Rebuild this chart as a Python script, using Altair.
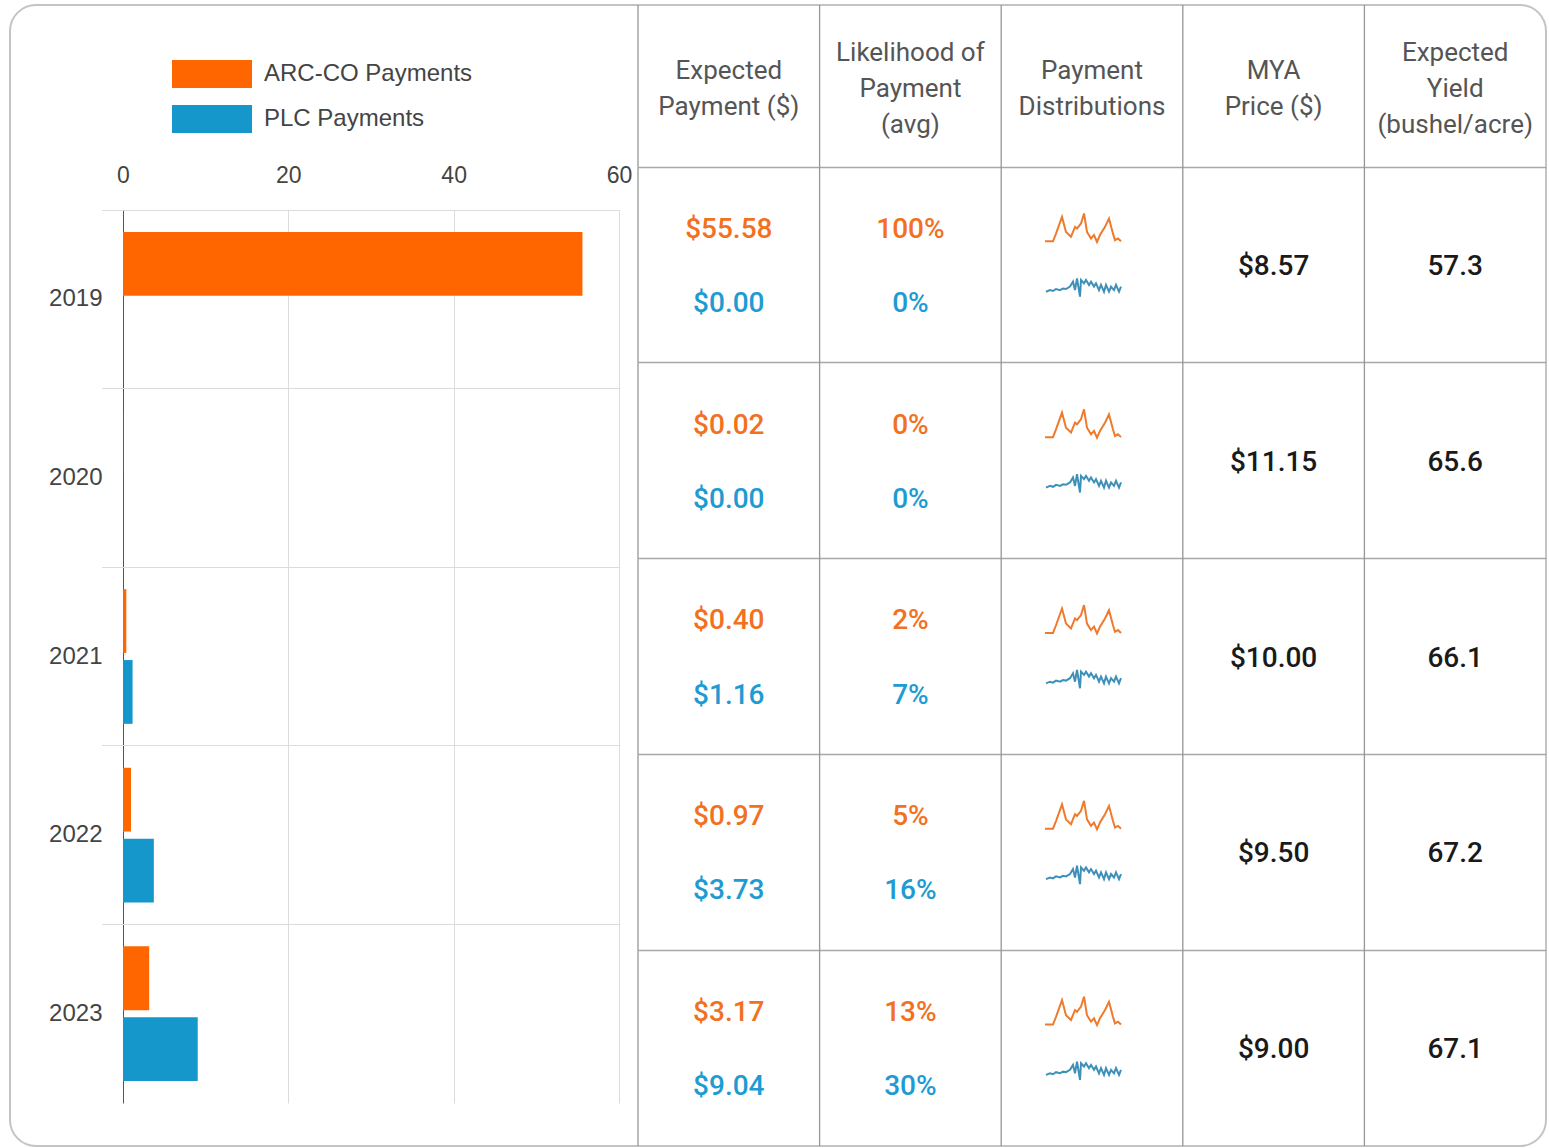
import altair as alt
import pandas as pd

# ---------------- data ----------------
years = ["2019", "2020", "2021", "2022", "2023"]
series = ["ARC-CO Payments", "PLC Payments"]
arc_payment = [55.58, 0.02, 0.40, 0.97, 3.17]
plc_payment = [0.00, 0.00, 1.16, 3.73, 9.04]
arc_likelihood = [100, 0, 2, 5, 13]
plc_likelihood = [0, 0, 7, 16, 30]
mya_price = [8.57, 11.15, 10.00, 9.50, 9.00]
expected_yield = [57.3, 65.6, 66.1, 67.2, 67.1]
headers = [
    "Expected|Payment ($)",
    "Likelihood of|Payment|(avg)",
    "Payment|Distributions",
    "MYA|Price ($)",
    "Expected|Yield|(bushel/acre)",
]
axis_ticks = [0, 20, 40, 60]

# sparkline shapes (same in every row)
spark_arc_t = [0, 8, 11, 17, 21, 26, 30, 32, 36, 39, 42, 46, 49, 52, 55, 60, 64, 68, 70, 73, 76]
spark_arc_v = [0.02, 0.02, 0.29, 0.88, 0.35, 0.18, 0.53, 0.47, 0.65, 1.0, 0.35,
               0.12, 0.24, 0.0, 0.24, 0.53, 0.82, 0.29, 0.06, 0.12, 0.02]
spark_plc_t = [1, 5, 8, 11, 15, 18, 21, 25, 28, 30, 32, 35, 36, 39, 41, 44, 46, 49,
               51, 54, 56, 59, 61, 64, 66, 69, 71, 74, 76]
spark_plc_v = [0.27, 0.36, 0.31, 0.42, 0.36, 0.45, 0.42, 0.55, 0.82, 0.36, 1.0, 0.0,
               0.91, 0.73, 0.91, 0.64, 0.82, 0.55, 0.73, 0.36, 0.64, 0.27, 0.64, 0.27,
               0.55, 0.36, 0.64, 0.27, 0.55]

# ---------------- tables for the library ----------------
bar_rows, val_rows, mid_rows, spark_rows = [], [], [], []
for i, yr in enumerate(years):
    bar_rows.append({"year": yr, "series": series[0], "value": arc_payment[i]})
    bar_rows.append({"year": yr, "series": series[1], "value": plc_payment[i]})
    val_rows.append({"year": yr, "col": headers[0], "series": series[0], "label": f"${arc_payment[i]:.2f}"})
    val_rows.append({"year": yr, "col": headers[0], "series": series[1], "label": f"${plc_payment[i]:.2f}"})
    val_rows.append({"year": yr, "col": headers[1], "series": series[0], "label": f"{arc_likelihood[i]}%"})
    val_rows.append({"year": yr, "col": headers[1], "series": series[1], "label": f"{plc_likelihood[i]}%"})
    mid_rows.append({"year": yr, "col": headers[3], "label": f"${mya_price[i]:.2f}"})
    mid_rows.append({"year": yr, "col": headers[4], "label": f"{expected_yield[i]:.1f}"})
    for t, v in zip(spark_arc_t, spark_arc_v):
        spark_rows.append({"year": yr, "row": i, "series": series[0], "t": t, "v": v})
    for t, v in zip(spark_plc_t, spark_plc_v):
        spark_rows.append({"year": yr, "row": i, "series": series[1], "t": t, "v": v})

bar_df = pd.DataFrame(bar_rows)
val_df = pd.DataFrame(val_rows)
mid_df = pd.DataFrame(mid_rows)
spark_df = pd.DataFrame(spark_rows)
col_df = pd.DataFrame({"col": headers})

# ---------------- layout / style ----------------
W, H = 1536, 1141
BAR_X_RANGE = [91.5, 609]
BAR_Y_RANGE = [205, 1098]
TAB_X_RANGE = [628, 1536]
TAB_Y_RANGE = [162, 1141]
SPARK_X_RANGE = [1035, 1112]

bar_colors = ["#ff6600", "#1597cb"]
text_colors = ["#f3701f", "#1d9bd2"]
spark_colors = ["#f07a2c", "#3f90b8"]
GFONT = "Liberation Sans"
TFONT = "Roboto"

# ---------------- bar chart ----------------
bars = alt.Chart(bar_df).mark_bar().encode(
    x=alt.X(
        "value:Q", stack=None,
        scale=alt.Scale(domain=[-2.6, 60], range=BAR_X_RANGE, nice=False, zero=False),
        axis=alt.Axis(
            orient="top", values=axis_ticks, title=None, domain=False, ticks=False,
            labelFont=GFONT, labelFontSize=23, labelColor="#444", labelPadding=4,
            labelFlush=False, offset=-186, grid=True,
            gridColor={"condition": {"test": "datum.value === 0", "value": "#555555"}, "value": "#dcdcdc"},
        ),
    ),
    x2=alt.datum(0),
    y=alt.Y(
        "year:N", sort=years,
        scale=alt.Scale(domain=years, range=BAR_Y_RANGE, paddingInner=0, paddingOuter=0),
        axis=alt.Axis(
            orient="left", title=None, domain=False, ticks=False,
            labelFont=GFONT, labelFontSize=24, labelColor="#444", labelPadding=6,
            offset=-98, grid=True, gridColor="#dcdcdc", bandPosition=0,
        ),
    ),
    yOffset=alt.YOffset(
        "series:N", sort=series,
        scale=alt.Scale(domain=series, paddingInner=0.1, paddingOuter=0.31),
    ),
    color=alt.Color(
        "series:N", sort=series,
        scale=alt.Scale(domain=series, range=bar_colors),
        legend=alt.Legend(
            orient="none", legendX=188, legendY=55, title=None, direction="vertical",
            symbolType="M-2.857,-1H2.857V1H-2.857Z", symbolSize=784, symbolStrokeWidth=0,
            labelFont=GFONT, labelFontSize=24, labelColor="#444", labelOffset=38,
            labelLimit=400, rowPadding=17, padding=0,
        ),
    ),
)

# ---------------- table ----------------
tab_axis = alt.Axis(
    orient="top", title=None, domain=False, ticks=False, grid=False, labelAngle=0,
    labelFont=TFONT, labelFontSize=26, labelColor="#555", offset=-93,
    labelPadding={"condition": {"test": "length(split(datum.label, '|')) === 3", "value": 46}, "value": 28},
    labelLineHeight=36, labelBaseline="middle", labelExpr="split(datum.label, '|')",
    labelLimit=400, labelOverlap=False,
)
tab_xscale = alt.Scale(domain=headers, range=TAB_X_RANGE, paddingInner=0, paddingOuter=0)
tab_x = alt.X("col:N", sort=headers, scale=tab_xscale, axis=tab_axis)
tab_y = alt.Y(
    "year:N", sort=years,
    scale=alt.Scale(domain=years, range=TAB_Y_RANGE, paddingInner=0, paddingOuter=0),
    axis=alt.Axis(orient="left", title=None, labels=False, domain=False, ticks=False,
                  grid=True, gridColor="#a8a8a8", gridWidth=1.5, bandPosition=0),
)

col_rules = alt.Chart(col_df).mark_rule(color="#969696", strokeWidth=1.3).encode(
    x=alt.X("col:N", sort=headers, scale=tab_xscale, axis=tab_axis, bandPosition=0),
)

values = alt.Chart(val_df).mark_text(font=TFONT, fontSize=28, fontWeight=500, baseline="middle", dy=2).encode(
    x=tab_x,
    y=tab_y,
    yOffset=alt.YOffset("series:N", sort=series,
                        scale=alt.Scale(type="point", domain=series, padding=0.82)),
    color=alt.Color("series:N", scale=alt.Scale(domain=series, range=text_colors), legend=None),
    text="label:N",
)

mids = alt.Chart(mid_df).mark_text(font=TFONT, fontSize=28, fontWeight=500, baseline="middle",
                                   dy=2, color="#1a1a1a").encode(
    x=tab_x,
    y=tab_y,
    text="label:N",
)

table = alt.layer(col_rules, values, mids)

# ---------------- sparklines ----------------
sparks = alt.Chart(spark_df).transform_calculate(
    ypos="datum.row + (datum.series === 'ARC-CO Payments' ? 0.3825 - 0.145 * datum.v : 0.6624 - 0.0936 * datum.v)"
).mark_line(strokeWidth=2).encode(
    x=alt.X("t:Q", scale=alt.Scale(domain=[0, 77], range=SPARK_X_RANGE, nice=False, zero=False), axis=None),
    y=alt.Y("ypos:Q", scale=alt.Scale(domain=[0, 5], range=TAB_Y_RANGE, nice=False, zero=False), axis=None),
    color=alt.Color("series:N", scale=alt.Scale(domain=series, range=spark_colors), legend=None),
    detail="year:N",
    order="t:Q",
)

chart = alt.layer(bars, table, sparks).resolve_scale(
    x="independent", y="independent", yOffset="independent", color="independent"
).properties(
    width=W, height=H,
    padding={"left": 10, "top": 5, "right": 3, "bottom": 2},
    autosize=alt.AutoSizeParams(type="none"),
).configure_view(
    stroke="#c4c4c4", strokeWidth=2, cornerRadius=26
)

chart.save("out.html", embed_options={"renderer": "svg", "actions": False})
